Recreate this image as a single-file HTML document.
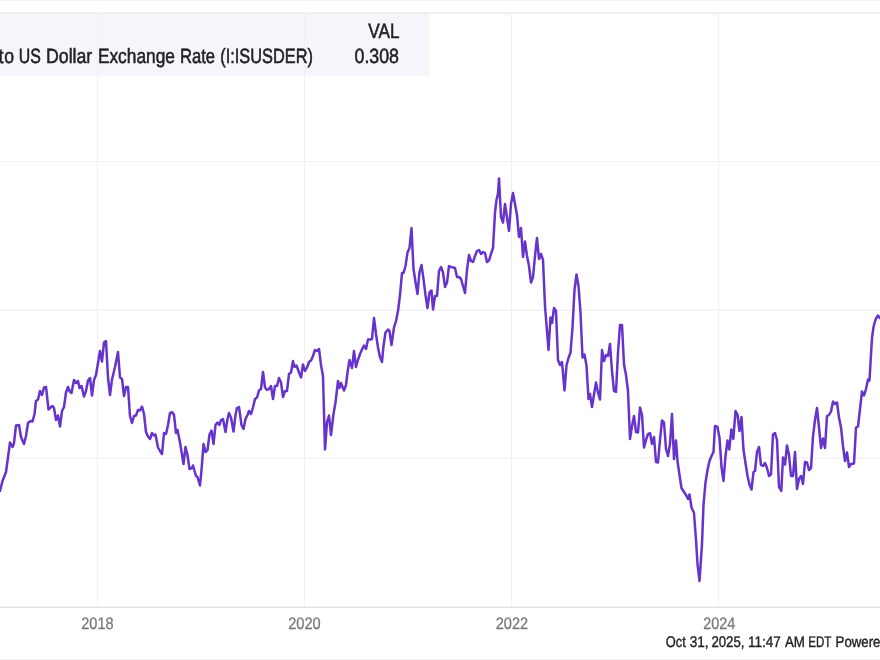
<!DOCTYPE html>
<html><head><meta charset="utf-8">
<style>
html,body{margin:0;padding:0;background:#fff;}
body{width:880px;height:660px;overflow:hidden;font-family:"Liberation Sans",sans-serif;}
svg{display:block;will-change:transform;opacity:0.999;}
text{font-family:"Liberation Sans",sans-serif;text-rendering:geometricPrecision;}
</style></head><body>
<svg width="880" height="660" viewBox="0 0 880 660">
<rect x="0" y="0" width="880" height="660" fill="#ffffff"/>
<!-- top/bottom frame lines -->
<rect x="0" y="0" width="880" height="1" fill="#f1f1f1"/>
<rect x="0" y="659" width="880" height="1" fill="#f1f1f1"/>
<!-- legend box -->
<rect x="0" y="13" width="429" height="62.6" fill="#f7f5fc"/>
<!-- grid -->
<g stroke="#f0f0f2" stroke-width="1" fill="none">
<line x1="97.5" y1="14" x2="97.5" y2="606"/>
<line x1="304.5" y1="14" x2="304.5" y2="606"/>
<line x1="511.5" y1="14" x2="511.5" y2="606"/>
<line x1="718.5" y1="14" x2="718.5" y2="606"/>
</g>
<g stroke="#f1f0f5" stroke-width="1" fill="none">
<line x1="0" y1="161.5" x2="880" y2="161.5"/>
</g>
<g stroke="#edecf3" stroke-width="1" fill="none">
<line x1="0" y1="310.15" x2="880" y2="310.15"/>
<line x1="0" y1="457.9" x2="880" y2="457.9"/>
</g>
<rect x="0" y="12" width="880" height="1" fill="#f4f4f4"/>
<rect x="0" y="13" width="880" height="1" fill="#ebebeb"/>
<rect x="0" y="606" width="880" height="1" fill="#f0f0f0"/>
<rect x="0" y="607" width="880" height="1" fill="#e4e4e4"/>
<!-- legend text -->
<text transform="translate(-1.43,62.6) scale(0.8789,1)" font-size="20.6" fill="#222222" stroke="#222222" stroke-width="0.55" stroke-linejoin="round">t</text>
<text transform="translate(4.29,62.6) scale(0.8557,1)" font-size="20.6" fill="#222222" stroke="#222222" stroke-width="0.55" stroke-linejoin="round">o</text>
<text transform="translate(18.73,62.6) scale(0.7704,1)" font-size="20.6" fill="#222222" stroke="#222222" stroke-width="0.55" stroke-linejoin="round">US</text>
<text transform="translate(46.03,62.6) scale(0.8595,1)" font-size="20.6" fill="#222222" stroke="#222222" stroke-width="0.55" stroke-linejoin="round">Dollar</text>
<text transform="translate(97.90,62.6) scale(0.8405,1)" font-size="20.6" fill="#222222" stroke="#222222" stroke-width="0.55" stroke-linejoin="round">Exchange</text>
<text transform="translate(179.95,62.6) scale(0.8060,1)" font-size="20.6" fill="#222222" stroke="#222222" stroke-width="0.55" stroke-linejoin="round">Rate</text>
<text transform="translate(220.30,62.6) scale(0.7932,1)" font-size="20.6" fill="#222222" stroke="#222222" stroke-width="0.55" stroke-linejoin="round">(I:ISUSDER)</text>
<text transform="translate(368.24,37.8) scale(0.8341,1)" font-size="20.6" fill="#222222" stroke="#222222" stroke-width="0.55" stroke-linejoin="round">VAL</text>
<text transform="translate(354.53,62.6) scale(0.8631,1)" font-size="20.6" fill="#222222" stroke="#222222" stroke-width="0.55" stroke-linejoin="round">0.308</text>
<!-- series -->
<path d="M0,491 L2.5,481 L6,472 L10,442.5 L12.5,447 L14,443 L16,425.5 L19,425 L21,437 L24,444 L26,436 L28,423 L30.5,421 L32.5,421.5 L34.5,414 L36,401 L38,399.5 L40,391 L42,395 L44,387.5 L46,387 L48.5,409.5 L51,407 L52.5,406 L54,408 L56,420 L58,415.5 L60,426.5 L62,411 L64,407 L66,392.5 L68,387 L69.5,391 L71.5,393 L74,380 L76,383 L78,381 L79.5,388 L81.5,386 L84,396.5 L86,391 L88,380.5 L90,378 L92,395.5 L94,380 L96,375 L98,363 L100,351 L102,361.5 L104,342.5 L106,341 L108,377.5 L110,395 L112,379.5 L115,367 L118,352 L120,377.5 L122,379 L124,396 L126,387 L128,387 L130,416 L132,423 L134,416 L136,415.5 L138,410 L140,410.5 L142,406.5 L144,414 L146,432 L148,436.5 L150,439 L152,433 L154,435.5 L155.5,434.5 L158,447.5 L160,451 L162,454 L164,433 L166,434 L168,425 L170,413 L172,412 L174,415 L176,433 L177.5,430 L180,442.5 L183.5,464 L185.5,447 L187.5,455 L189.5,469 L192,468 L193,465.5 L196,476 L197.5,477 L200,485.5 L201.5,470 L203.5,444 L205.5,452 L207.5,450 L209.5,434.5 L211.5,430.5 L213.5,444 L215.5,425 L217.5,422.5 L219.5,425 L221,420 L223,419 L225.5,432 L227.5,419 L229,413 L231,417.5 L233.5,431.5 L235.5,415 L237,408 L239,407 L241.5,425 L243.5,429 L245.5,419 L247.5,415 L249,411 L251,414 L253,407.5 L255,399 L257,397.5 L259,390.5 L261,389 L263,372 L265,387.5 L267,390 L269,389 L271,386 L273,399 L275,386 L277,386 L279,378 L281,382.5 L283,397 L285,391 L287,391 L289,374 L291,372.5 L293,361 L294.5,367 L296.5,365.5 L299,372.5 L301,377.5 L303,364.5 L305,371 L307,367.5 L309,362 L311,360.5 L313,356 L315,350 L317,351 L319,349 L321,365 L323,376 L325,449.5 L327,422 L329,415.5 L331,435 L333.5,414 L335.5,402.5 L338,381 L339.5,388 L341,383 L344,390.5 L346,385 L347.5,372.5 L349.5,360 L352,368 L354,351 L356,367 L358,360 L360,354 L362,349.5 L364,345.5 L366,349 L368,339.5 L370,339.5 L372,339 L374,318 L376,334 L378,347.5 L380,357 L382,362 L383.5,346 L385.5,332.5 L388,329.5 L389.5,331 L391.5,345 L394,327.5 L396,321 L398,311 L400,295 L402,273 L403.5,273 L405.5,266 L407.5,252.5 L409.5,248 L411.5,228 L413.5,269 L415.5,282 L417.5,294 L419.5,272 L421.5,265 L423.5,279 L425.5,295 L427.5,308 L429.5,292.5 L431.5,290.5 L433,309.5 L435,296 L437,296 L439,271 L441,267 L443,272.5 L445,287 L447,282.5 L449,266 L451,267 L453,267.5 L455,268 L457,277 L459,277 L461,279 L463,286 L465,293 L467,270 L469,255 L471,261 L473,262 L475,256 L477,251 L479,250 L481,254 L483,252 L485,253 L487,262 L489,260.5 L491,254 L493,248 L495,212.5 L496.5,200 L498,193.5 L499,178.5 L501,217 L503,222.5 L505,204 L507,217.5 L509,231 L511,204 L513,193 L515,204 L517,215 L519,237 L521,228 L523,257 L525,241.5 L527,256 L529,266 L531,282.5 L533,277 L535,256 L537,238 L539,259 L541,254 L543,260 L545,306 L546.5,325 L548.5,350 L550.5,317.5 L552,323 L554,308 L556,311 L558,360 L560,365 L562,362 L564.5,390.5 L566.5,365.5 L568.5,358 L570.5,352.5 L572.5,327.5 L574.5,290 L576.5,274.5 L578.5,286 L580.5,312.5 L582.5,357.5 L584.5,354.5 L586.5,365.5 L588.5,399 L590,394 L592,407 L594,394.5 L596,382.5 L598,392.5 L600,399.5 L602,350 L604,361 L606,355 L608,356 L610,344 L612,371 L614,391 L616,392 L618,352.5 L620,325 L622,325 L624,364.5 L626,375 L628,391 L630,439 L632,426 L634,416 L636,432 L638,432.5 L640,407.5 L642,415 L644,447.5 L646,440 L648,434 L650,433 L652,444 L654,437 L656,462 L658,462.5 L660,440 L662,420.5 L664,422.5 L666,449 L668,456 L670,444 L672,414 L674,459 L676,440.5 L677.5,461 L679.5,475 L681.5,488 L684,492 L686,495 L688,499 L689.5,494.5 L691.5,507.5 L694,513 L696,540 L697.5,564 L699.5,581 L702,544 L703.5,505 L705.5,482.5 L707.5,470 L709.5,461 L711.5,456 L713.5,452 L715,426 L717.5,427 L719.5,438 L721.5,467 L723.5,481 L725.5,456 L727.5,440.5 L729.3,449.5 L731.3,429.5 L733.3,439 L735.5,411 L737.5,414.5 L739.5,431 L741.5,417 L743.5,450 L745.5,463 L747.5,476 L749.5,484.5 L751.5,489.5 L753.5,472 L755,471 L757,452 L759,447 L761,465 L763,466 L765,463 L767,468 L769,476 L771,474.5 L773,434.5 L775,433 L777,440 L779,487 L781.3,491 L783,457.5 L785,464.5 L787,445.5 L789,455 L791,476 L793,476 L795,452 L797,489 L799,479 L801,476 L803,484 L805,462 L807,462.5 L809,470 L811,468 L813,436.5 L815,420 L817,408 L819,427.5 L821,448 L823,438.5 L825,448 L827,416 L829,415 L831,411.5 L833,401.5 L835,404 L837,402.5 L839,417.5 L841,427.5 L843,446 L845,461 L847,452.5 L849,467 L851,464 L854,463.5 L856,427.5 L858,426.5 L860,409 L862,391.5 L864,395.5 L866,389 L868,379.5 L869.5,380.5 L871,354.5 L872,338 L873.5,327 L875.5,319.5 L878,315.5 L880,318 L882,320" fill="none" stroke="#6633cc" stroke-width="2.5" stroke-linejoin="round" stroke-linecap="round"/>
<!-- x axis labels -->
<text transform="translate(81.28,629.0) scale(0.8762,1)" font-size="16.6" fill="#777777" stroke="#777777" stroke-width="0.25" stroke-linejoin="round">2018</text>
<text transform="translate(288.13,629.0) scale(0.8826,1)" font-size="16.6" fill="#777777" stroke="#777777" stroke-width="0.25" stroke-linejoin="round">2020</text>
<text transform="translate(495.63,629.0) scale(0.8807,1)" font-size="16.6" fill="#777777" stroke="#777777" stroke-width="0.25" stroke-linejoin="round">2022</text>
<text transform="translate(703.14,629.0) scale(0.8687,1)" font-size="16.6" fill="#777777" stroke="#777777" stroke-width="0.25" stroke-linejoin="round">2024</text>
<text transform="translate(665.80,646.55) scale(0.8369,1)" font-size="15.4" fill="#222222" stroke="#222222" stroke-width="0.38" stroke-linejoin="round">Oct</text>
<text transform="translate(689.66,646.55) scale(0.8828,1)" font-size="15.4" fill="#222222" stroke="#222222" stroke-width="0.38" stroke-linejoin="round">31,</text>
<text transform="translate(711.40,646.55) scale(0.8596,1)" font-size="15.4" fill="#222222" stroke="#222222" stroke-width="0.38" stroke-linejoin="round">2025,</text>
<text transform="translate(747.90,646.55) scale(0.8789,1)" font-size="15.4" fill="#222222" stroke="#222222" stroke-width="0.38" stroke-linejoin="round">11:47</text>
<text transform="translate(784.88,646.55) scale(0.8683,1)" font-size="15.4" fill="#222222" stroke="#222222" stroke-width="0.38" stroke-linejoin="round">AM</text>
<text transform="translate(808.19,646.55) scale(0.7526,1)" font-size="15.4" fill="#222222" stroke="#222222" stroke-width="0.38" stroke-linejoin="round">EDT</text>
<text transform="translate(835.57,646.55) scale(0.8608,1)" font-size="15.4" fill="#222222" stroke="#222222" stroke-width="0.38" stroke-linejoin="round">Powered</text>
</svg>
</body></html>
